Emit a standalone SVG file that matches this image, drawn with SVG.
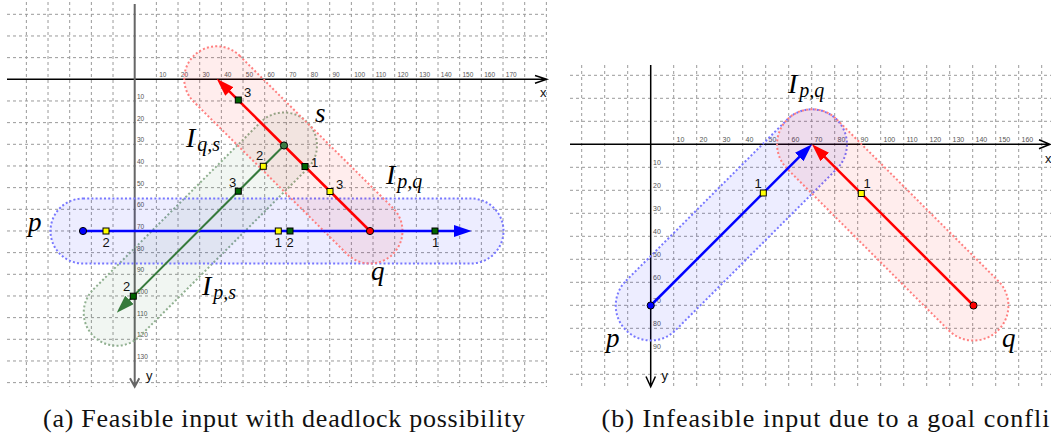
<svg xmlns="http://www.w3.org/2000/svg" width="1051" height="440" viewBox="0 0 1051 440">
<style>
.grid{fill:none;stroke:#9a9a9a;stroke-width:1;stroke-dasharray:3 3}
.axis{fill:none;stroke:#000;stroke-width:1.5}
.yax{fill:none;stroke:#666;stroke-width:2}
.tk{font-family:"Liberation Sans",Arial,sans-serif;font-size:6.5px;fill:#555}
.tk2{font-family:"Liberation Sans",Arial,sans-serif;font-size:7px;fill:#555}
.ax{font-family:"Liberation Sans",Arial,sans-serif;font-size:13px;fill:#111}
.num{font-family:"Liberation Sans",Arial,sans-serif;font-size:13px;fill:#111}
.num2{font-family:"Liberation Sans",Arial,sans-serif;font-size:13px;fill:#111}
.m{font-style:italic;font-size:27px;fill:#000}
.mi{font-style:italic;font-size:28px;fill:#000}
.cap{font-size:26px;fill:#111}
.capB{fill:#0000ff;fill-opacity:0.07;stroke:#7878ff;stroke-width:2;stroke-dasharray:2 2.2}
.capR{fill:#ff0000;fill-opacity:0.07;stroke:#ff8080;stroke-width:2;stroke-dasharray:2 2.2}
.capG{fill:#3c7d44;fill-opacity:0.07;stroke:#90b090;stroke-width:2;stroke-dasharray:2 2.2}
.lb{fill:none;stroke:#0000ff;stroke-width:2.5}
.lr{fill:none;stroke:#ff0000;stroke-width:2.5}
.lg{fill:none;stroke:#367a3c;stroke-width:2}
.sy{fill:#ffff00;stroke:#000;stroke-width:1}
.sg{fill:#006400;stroke:#000;stroke-width:1}
.pt{stroke:#000;stroke-width:1}
</style>
<defs>
<marker id="ahB" viewBox="0 0 18 12" refX="8" refY="6" markerWidth="18" markerHeight="12" markerUnits="userSpaceOnUse" orient="auto"><path d="M0,0 L18,6 L0,12 z" fill="#0000ff"/></marker>
<marker id="ahR" viewBox="0 0 18 12" refX="8" refY="6" markerWidth="18" markerHeight="12" markerUnits="userSpaceOnUse" orient="auto"><path d="M0,0 L18,6 L0,12 z" fill="#ff0000"/></marker>
<marker id="ahG" viewBox="0 0 18 12" refX="8" refY="6" markerWidth="18" markerHeight="12" markerUnits="userSpaceOnUse" orient="auto"><path d="M0,0 L18,6 L0,12 z" fill="#367a3c"/></marker>
</defs>
<rect width="1051" height="440" fill="#fff"/>

<!-- LEFT PANEL -->
<g id="gridA">
<path class="grid" d="M26.37 2V387M48.03 2V387M69.7 2V387M91.37 2V387M113.03 2V387M156.37 2V387M178.03 2V387M199.7 2V387M221.37 2V387M243.03 2V387M264.7 2V387M286.37 2V387M308.03 2V387M329.7 2V387M351.37 2V387M373.03 2V387M394.7 2V387M416.37 2V387M438.03 2V387M459.7 2V387M481.37 2V387M503.03 2V387M524.7 2V387M546.37 2V387"/>
<path class="grid" d="M7 14.3H547M7 35.97H547M7 57.63H547M7 100.97H547M7 122.63H547M7 144.3H547M7 165.97H547M7 187.63H547M7 209.3H547M7 230.97H547M7 252.63H547M7 274.3H547M7 295.97H547M7 317.63H547M7 339.3H547M7 360.97H547M7 382.63H547"/>
<path class="axis" d="M7 79.3H547M535 75.5L546.7 79.3L535 83.3"/>
<path class="yax" d="M134.7 4V386.5M130 378.3L134.7 386.7L139.3 378.3"/>
<text class="ax" x="540" y="96.5">x</text>
<text class="ax" x="146" y="380">y</text>
<g class="tk">
<text x="159.2" y="76.5">10</text><text x="180.8" y="76.5">20</text><text x="202.5" y="76.5">30</text><text x="224.2" y="76.5">40</text><text x="245.8" y="76.5">50</text><text x="267.5" y="76.5">60</text><text x="289.2" y="76.5">70</text><text x="310.8" y="76.5">80</text><text x="332.5" y="76.5">90</text><text x="354.2" y="76.5">100</text><text x="375.8" y="76.5">110</text><text x="397.5" y="76.5">120</text><text x="419.2" y="76.5">130</text><text x="440.8" y="76.5">140</text><text x="462.5" y="76.5">150</text><text x="484.2" y="76.5">160</text><text x="505.8" y="76.5">170</text>
<text x="137" y="99">10</text><text x="137" y="120.6">20</text><text x="137" y="142.3">30</text><text x="137" y="164">40</text><text x="137" y="185.6">50</text><text x="137" y="207.3">60</text><text x="137" y="229">70</text><text x="137" y="250.6">80</text><text x="137" y="272.3">90</text><text x="137" y="294">100</text><text x="137" y="315.6">110</text><text x="137" y="337.3">120</text><text x="137" y="359">130</text>
</g>
</g>

<g id="I_ps_region"><rect class="capG" x="-151.25" y="-33" width="302.5" height="66" rx="33" transform="translate(200.35 229.1) rotate(-45)"/></g>
<g id="I_pq_region_a"><rect class="capB" x="50.5" y="198.5" width="453" height="65" rx="32.5"/></g>
<g id="I_qs_region"><rect class="capR" x="-140.5" y="-32.5" width="281" height="65" rx="32.5" transform="translate(293.35 154.9) rotate(44.8)"/></g>

<g id="connectors_a">
<path class="lb" d="M83 231L461.7 231" marker-end="url(#ahB)"/>
<path class="lr" d="M370 231L223.8 85.9" marker-end="url(#ahR)"/>
<path class="lg" d="M284 145.5L123.8 305.6" marker-end="url(#ahG)"/>
</g>

<g id="waypoints_a">
<rect class="sy" x="103" y="228" width="6" height="6"/>
<rect class="sy" x="275.3" y="228" width="6" height="6"/>
<rect class="sg" x="287" y="228" width="6" height="6"/>
<rect class="sg" x="432" y="228" width="6" height="6"/>
<rect class="sg" x="235.3" y="97" width="6" height="6"/>
<rect class="sg" x="302" y="163.5" width="6" height="6"/>
<rect class="sy" x="327" y="188.5" width="6" height="6"/>
<rect class="sy" x="260.3" y="163.3" width="6" height="6"/>
<rect class="sg" x="235.3" y="188.2" width="6" height="6"/>
<rect class="sg" x="130.3" y="293.2" width="6" height="6"/>
<g class="num">
<text x="106" y="246.5" text-anchor="middle">2</text>
<text x="278.3" y="246.5" text-anchor="middle">1</text>
<text x="290" y="246.5" text-anchor="middle">2</text>
<text x="435.5" y="246.5" text-anchor="middle">1</text>
<text x="244" y="97">3</text>
<text x="311" y="166.5">1</text>
<text x="336" y="188.5">3</text>
<text x="256" y="159.5">2</text>
<text x="229" y="187">3</text>
<text x="123" y="291">2</text>
</g>
</g>

<g font-family="Liberation Serif, Times New Roman, DejaVu Serif, serif">
<g id="node_p_a"><circle class="pt" cx="83" cy="231" r="3.6" fill="#0000ff"/><text class="m" x="28" y="231">p</text></g>
<g id="node_q_a"><circle class="pt" cx="370" cy="231" r="3.6" fill="#ff0000"/><text class="m" x="371" y="280">q</text></g>
<g id="node_s_a"><circle class="pt" cx="284" cy="145.5" r="3.6" fill="#3c7d44"/><text class="m" x="315" y="122">s</text></g>

<g id="labels_a">
<text class="mi" x="186" y="147">I<tspan font-size="20" dx="2" dy="4">q,s</tspan></text>
<text class="mi" x="386" y="183.5">I<tspan font-size="20" dx="2" dy="4">p,q</tspan></text>
<text class="mi" x="202" y="295">I<tspan font-size="20" dx="2" dy="4">p,s</tspan></text>
</g>
</g>

<!-- RIGHT PANEL -->
<g id="gridB">
<path class="grid" d="M581.7 65V387M604.7 65V387M627.7 65V387M673.7 65V387M696.7 65V387M719.7 65V387M742.7 65V387M765.7 65V387M788.7 65V387M811.7 65V387M834.7 65V387M857.7 65V387M880.7 65V387M903.7 65V387M926.7 65V387M949.7 65V387M972.7 65V387M995.7 65V387M1018.7 65V387M1041.7 65V387"/>
<path class="grid" d="M570 75.3H1051M570 98.3H1051M570 121.3H1051M570 167.3H1051M570 190.3H1051M570 213.3H1051M570 236.3H1051M570 259.3H1051M570 282.3H1051M570 305.3H1051M570 328.3H1051M570 351.3H1051M570 374.3H1051"/>
<path class="axis" d="M570 144.3H1050M1039 139.8L1050 144.3L1039 148.8"/>
<path class="axis" d="M650.7 65V386.5M646 376.5L650.7 386.7L655.4 376.5"/>
<text class="ax" x="1045" y="163">x</text>
<text class="ax" x="661.5" y="380">y</text>
<g class="tk2">
<text x="676.5" y="142">10</text><text x="699.5" y="142">20</text><text x="722.5" y="142">30</text><text x="745.5" y="142">40</text><text x="768.5" y="142">50</text><text x="791.5" y="142">60</text><text x="814.5" y="142">70</text><text x="837.5" y="142">80</text><text x="860.5" y="142">90</text><text x="883.5" y="142">100</text><text x="906.5" y="142">110</text><text x="929.5" y="142">120</text><text x="952.5" y="142">130</text><text x="975.5" y="142">140</text><text x="998.5" y="142">150</text><text x="1021.5" y="142">160</text>
<text x="653" y="165.3">10</text><text x="653" y="188.3">20</text><text x="653" y="211.3">30</text><text x="653" y="234.3">40</text><text x="653" y="257.3">50</text><text x="653" y="280.3">60</text><text x="653" y="303.3">70</text><text x="653" y="326.3">80</text><text x="653" y="349.3">90</text>
</g>
</g>

<g id="I_p_region_b"><rect class="capB" x="-149" y="-35" width="298" height="70" rx="35" transform="translate(731.35 224.9) rotate(-45)"/></g>
<g id="I_q_region_b"><rect class="capR" x="-149.1" y="-35" width="298.2" height="70" rx="35" transform="translate(892.75 224.9) rotate(45)"/></g>

<g id="connectors_b">
<path class="lb" d="M650.7 305.5L804.9 151.4" marker-end="url(#ahB)"/>
<path class="lr" d="M973.5 305.5L819.1 151.4" marker-end="url(#ahR)"/>
</g>

<g id="waypoints_b">
<rect class="sy" x="760.3" y="190" width="6" height="6"/>
<rect class="sy" x="858.3" y="190.5" width="6" height="6"/>
<text class="num2" x="754.5" y="187.5">1</text>
<text class="num2" x="863.5" y="187.5">1</text>
</g>

<g font-family="Liberation Serif, Times New Roman, DejaVu Serif, serif">
<g id="node_p_b"><circle class="pt" cx="650.7" cy="305.5" r="3.6" fill="#0000ff"/><text class="m" x="606" y="347">p</text></g>
<g id="node_q_b"><circle class="pt" cx="973.5" cy="305.5" r="3.6" fill="#ff0000"/><text class="m" x="1002" y="347">q</text></g>
<g id="labels_b">
<text class="mi" x="788" y="93">I<tspan font-size="20" dx="2" dy="4">p,q</tspan></text>
</g>

<g id="captions">
<text class="cap" x="43" y="427" textLength="482" lengthAdjust="spacing">(a) Feasible input with deadlock possibility</text>
<text class="cap" x="601.5" y="427" textLength="448" lengthAdjust="spacing">(b) Infeasible input due to a goal confli</text>
</g>
</g>
</svg>
